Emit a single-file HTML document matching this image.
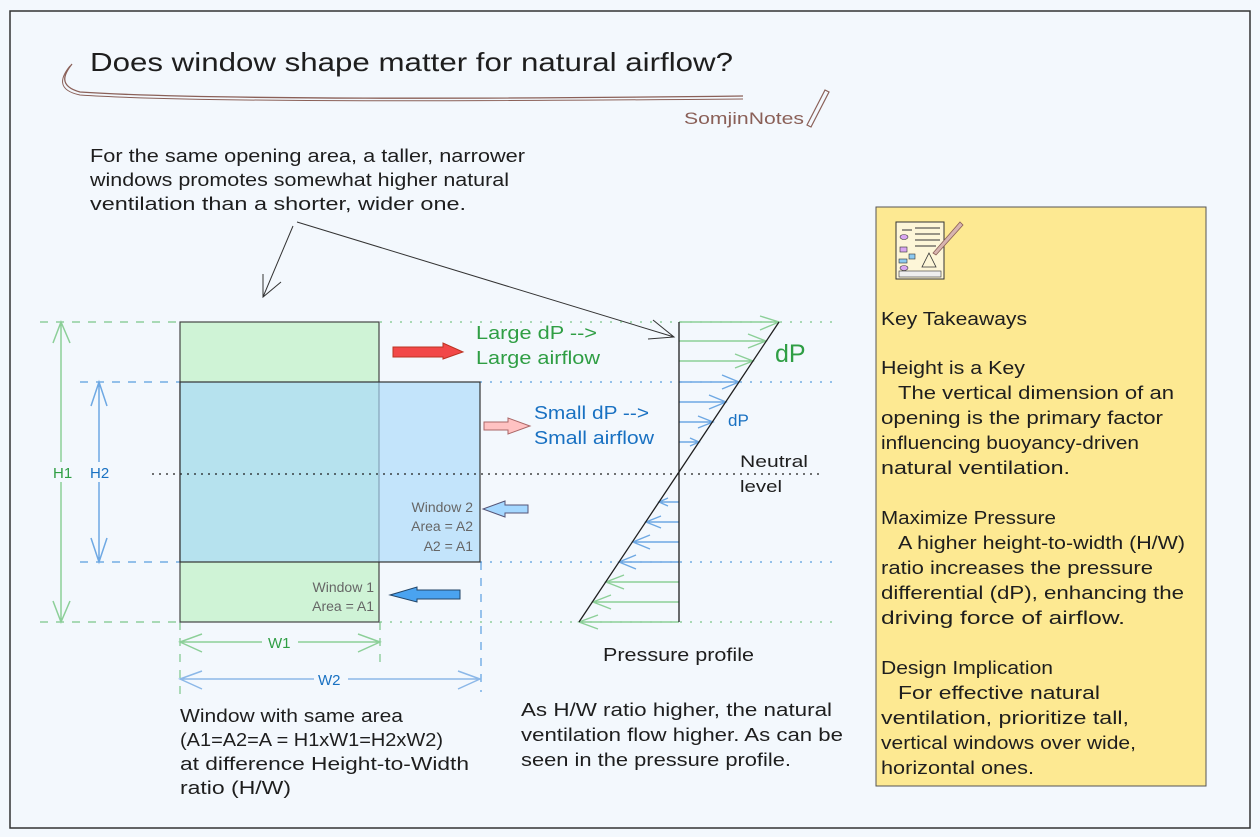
<!DOCTYPE html>
<html><head><meta charset="utf-8"><style>
html,body{margin:0;padding:0;background:#f3f8fd;}
svg{display:block;}
text{font-family:"Liberation Sans",sans-serif;}
</style></head><body>
<svg width="1260" height="837" viewBox="0 0 1260 837" xmlns="http://www.w3.org/2000/svg">
<rect x="0" y="0" width="1260" height="837" fill="#f3f8fd"/>
<rect x="10" y="11" width="1240" height="817" fill="none" stroke="#333" stroke-width="1.5"/>
<!-- title -->
<text x="90" y="71" font-size="26" fill="#1e1e1e" textLength="643" lengthAdjust="spacingAndGlyphs">Does window shape matter for natural airflow?</text>
<path d="M72,64 C64,74 58,86 80,92 C200,100 500,99 743,96" fill="none" stroke="#8a6058" stroke-width="1.3"/>
<path d="M70,66 C61,77 56,90 80,95 C200,103 500,101 743,99" fill="none" stroke="#8a6058" stroke-width="1"/>
<text x="684" y="124" font-size="17" fill="#8a6058" textLength="120" lengthAdjust="spacingAndGlyphs">SomjinNotes</text>
<path d="M807,125 L825,90 L829,92 L811,127 Z" fill="none" stroke="#8a6058" stroke-width="1.2"/>
<!-- top note -->
<g font-size="18" fill="#1e1e1e">
<text x="90" y="162" textLength="435" lengthAdjust="spacingAndGlyphs">For the same opening area, a taller, narrower</text>
<text x="90" y="186" textLength="419" lengthAdjust="spacingAndGlyphs">windows promotes somewhat higher natural</text>
<text x="90" y="210" textLength="376" lengthAdjust="spacingAndGlyphs">ventilation than a shorter, wider one.</text>
</g>
<path d="M297,222 L674,337 M653,320 L674,337 L648,339" fill="none" stroke="#333" stroke-width="1"/>
<path d="M293,226 L263,297 M263,274 L263,297 L281,282" fill="none" stroke="#333" stroke-width="1"/>
<!-- guide lines -->
<g stroke-width="1.2" fill="none">
<path d="M40,322 H180 M40,622 H180" stroke="#7cc68a" stroke-dasharray="8,8"/>
<path d="M380,322 H840 M380,622 H840" stroke="#7cc68a" stroke-dasharray="2,8"/>
<path d="M80,382 H180 M80,562 H180" stroke="#5a9ee0" stroke-dasharray="8,8"/>
<path d="M480,382 H840 M480,562 H840" stroke="#5a9ee0" stroke-dasharray="2,8"/>
<path d="M180,622 V700 M380,622 V662" stroke="#7cc68a" stroke-dasharray="8,8"/>
<path d="M481,562 V692" stroke="#5a9ee0" stroke-dasharray="8,8"/>
</g>
<!-- windows -->
<rect x="180" y="322" width="199" height="300" fill="#cff3d6" stroke="#444" stroke-width="1.2"/>
<rect x="180" y="382" width="300" height="180" fill="#a9d8fb" fill-opacity="0.65" stroke="#333" stroke-width="1.2"/>
<line x1="152" y1="474" x2="820" y2="474" stroke="#1e1e1e" stroke-width="1.3" stroke-dasharray="2,5"/>
<!-- dimension arrows -->
<g fill="none" stroke-width="1.5">
<path d="M61,322 V622 M53,343 L61,322 L70,343 M53,601 L61,622 L70,601" stroke="#8ccf98"/>
<path d="M99,382 V562 M91,406 L99,382 L107,406 M91,538 L99,562 L107,538" stroke="#6ea8e3"/>
<path d="M180,642 H380 M202,634 L180,642 L202,652 M358,634 L380,642 L358,652" stroke="#8ccf98"/>
<path d="M180,679 H480 M202,671 L180,679 L202,689 M458,671 L480,679 L458,689" stroke="#8cb8e8"/>
</g>
<rect x="50" y="462" width="22" height="20" fill="#f3f8fd"/>
<rect x="88" y="462" width="22" height="20" fill="#f3f8fd"/>
<rect x="262" y="634" width="36" height="16" fill="#f3f8fd"/>
<rect x="314" y="671" width="34" height="16" fill="#f3f8fd"/>
<g font-size="15">
<text x="53" y="478" fill="#2f9e44">H1</text>
<text x="90" y="478" fill="#1971c2">H2</text>
<text x="268" y="648" fill="#2f9e44">W1</text>
<text x="318" y="685" fill="#1971c2">W2</text>
</g>
<g font-size="14" fill="#666" text-anchor="end">
<text x="473" y="512">Window 2</text>
<text x="473" y="531">Area = A2</text>
<text x="473" y="551">A2 = A1</text>
<text x="374" y="592">Window 1</text>
<text x="374" y="611">Area = A1</text>
</g>
<!-- flow arrows -->
<path d="M393,347 H443 V343 L463,352 L443,359 V357 H393 Z" fill="#f24848" stroke="#b32" stroke-width="1"/>
<path d="M484,422 H508 V418 L530,426 L508,434 V430 H484 Z" fill="#ffc2c2" stroke="#a66" stroke-width="1"/>
<path d="M528,505 H505 V501 L483,509 L505,517 V513 H528 Z" fill="#a5d8ff" stroke="#557" stroke-width="1"/>
<path d="M460,590 H417 V587 L390,595 L417,602 V599 H460 Z" fill="#4aa3f0" stroke="#246" stroke-width="1"/>
<g font-size="18">
<text x="476" y="339" fill="#2f9e44" textLength="121" lengthAdjust="spacingAndGlyphs">Large dP --&gt;</text>
<text x="476" y="364" fill="#2f9e44" textLength="124" lengthAdjust="spacingAndGlyphs">Large airflow</text>
<text x="534" y="419" fill="#1971c2" textLength="115" lengthAdjust="spacingAndGlyphs">Small dP --&gt;</text>
<text x="534" y="444" fill="#1971c2" textLength="120" lengthAdjust="spacingAndGlyphs">Small airflow</text>
</g>
<!-- pressure profile -->
<g fill="none" stroke-width="1.4">
<path d="M679,322 H779 M760,316 L779,322 L760,330" stroke="#8ccf98"/>
<path d="M679,341 H766 M748,334 L766,341 L748,348" stroke="#8ccf98"/>
<path d="M679,361 H753 M735,354 L753,361 L735,368" stroke="#8ccf98"/>
<path d="M679,382 H739 M722,375 L739,382 L722,389" stroke="#6ea8e3"/>
<path d="M679,402 H726 M709,395 L726,402 L709,409" stroke="#6ea8e3"/>
<path d="M679,422 H713 M698,416 L713,422 L698,428" stroke="#6ea8e3"/>
<path d="M679,442 H699 M690,438 L699,442 L690,446" stroke="#6ea8e3"/>
<path d="M679,502 H659 M668,498 L659,502 L668,506" stroke="#6ea8e3"/>
<path d="M679,522 H646 M661,516 L646,522 L661,528" stroke="#6ea8e3"/>
<path d="M679,542 H633 M650,535 L633,542 L650,549" stroke="#6ea8e3"/>
<path d="M679,562 H619 M636,555 L619,562 L636,569" stroke="#6ea8e3"/>
<path d="M679,582 H606 M624,575 L606,582 L624,589" stroke="#8ccf98"/>
<path d="M679,602 H593 M611,595 L593,602 L611,609" stroke="#8ccf98"/>
<path d="M679,622 H579 M598,615 L579,622 L598,629" stroke="#8ccf98"/>
</g>
<line x1="679" y1="322" x2="679" y2="622" stroke="#1e1e1e" stroke-width="1.3"/>
<line x1="779" y1="322" x2="579" y2="622" stroke="#1e1e1e" stroke-width="1.3"/>
<text x="775" y="362" font-size="25" fill="#2f9e44">dP</text>
<text x="728" y="426" font-size="17" fill="#1971c2">dP</text>
<text x="740" y="467" font-size="17" fill="#1e1e1e" textLength="68" lengthAdjust="spacingAndGlyphs">Neutral</text>
<text x="740" y="492" font-size="17" fill="#1e1e1e" textLength="42" lengthAdjust="spacingAndGlyphs">level</text>
<text x="603" y="661" font-size="18" fill="#1e1e1e" textLength="151" lengthAdjust="spacingAndGlyphs">Pressure profile</text>
<!-- bottom notes -->
<g font-size="18" fill="#1e1e1e">
<text x="180" y="722" textLength="223" lengthAdjust="spacingAndGlyphs">Window with same area</text>
<text x="180" y="746" textLength="263" lengthAdjust="spacingAndGlyphs">(A1=A2=A = H1xW1=H2xW2)</text>
<text x="180" y="770" textLength="289" lengthAdjust="spacingAndGlyphs">at difference Height-to-Width</text>
<text x="180" y="794" textLength="111" lengthAdjust="spacingAndGlyphs">ratio (H/W)</text>
<text x="521" y="716" textLength="311" lengthAdjust="spacingAndGlyphs">As H/W ratio higher, the natural</text>
<text x="521" y="741" textLength="322" lengthAdjust="spacingAndGlyphs">ventilation flow higher. As can be</text>
<text x="521" y="766" textLength="270" lengthAdjust="spacingAndGlyphs">seen in the pressure profile.</text>
</g>
<!-- yellow box -->
<rect x="876" y="207" width="330" height="579" fill="#fde992" stroke="#555" stroke-width="1"/>
<g>
<rect x="896" y="222" width="48" height="57" fill="#fdf6d8" stroke="#333" stroke-width="1"/>
<path d="M915,228 H940 M915,234 H940 M915,240 H940 M915,246 H936 M902,230 H912" stroke="#333" stroke-width="1"/>
<ellipse cx="904" cy="237" rx="4" ry="2.5" fill="#d9a6f0" stroke="#333" stroke-width="0.6"/>
<rect x="900" y="247" width="7" height="5" fill="#d9a6f0" stroke="#333" stroke-width="0.6"/>
<rect x="909" y="254" width="6" height="5" fill="#8cc9f0" stroke="#333" stroke-width="0.6"/>
<rect x="899" y="259" width="8" height="4" fill="#8cc9f0" stroke="#333" stroke-width="0.6"/>
<ellipse cx="904" cy="268" rx="4" ry="2.5" fill="#d9a6f0" stroke="#333" stroke-width="0.6"/>
<path d="M929,253 L936,267 L922,267 Z" fill="none" stroke="#333" stroke-width="0.8"/>
<rect x="899" y="271" width="42" height="6" fill="#eee" stroke="#333" stroke-width="0.6"/>
<path d="M933,253 L960,222 L963,225 L936,255 Z" fill="#d8b4b0" stroke="#8a6058" stroke-width="0.8"/>
</g>
<g font-size="18" fill="#1e1e1e">
<text x="881" y="325" textLength="146" lengthAdjust="spacingAndGlyphs">Key Takeaways</text>
<text x="881" y="374" textLength="144" lengthAdjust="spacingAndGlyphs">Height is a Key</text>
<text x="898" y="399" textLength="276" lengthAdjust="spacingAndGlyphs">The vertical dimension of an</text>
<text x="881" y="424" textLength="282" lengthAdjust="spacingAndGlyphs">opening is the primary factor</text>
<text x="881" y="449" textLength="258" lengthAdjust="spacingAndGlyphs">influencing buoyancy-driven</text>
<text x="881" y="474" textLength="189" lengthAdjust="spacingAndGlyphs">natural ventilation.</text>
<text x="881" y="524" textLength="175" lengthAdjust="spacingAndGlyphs">Maximize Pressure</text>
<text x="898" y="549" textLength="287" lengthAdjust="spacingAndGlyphs">A higher height-to-width (H/W)</text>
<text x="881" y="574" textLength="272" lengthAdjust="spacingAndGlyphs">ratio increases the pressure</text>
<text x="881" y="599" textLength="303" lengthAdjust="spacingAndGlyphs">differential (dP), enhancing the</text>
<text x="881" y="624" textLength="244" lengthAdjust="spacingAndGlyphs">driving force of airflow.</text>
<text x="881" y="674" textLength="172" lengthAdjust="spacingAndGlyphs">Design Implication</text>
<text x="898" y="699" textLength="202" lengthAdjust="spacingAndGlyphs">For effective natural</text>
<text x="881" y="724" textLength="248" lengthAdjust="spacingAndGlyphs">ventilation, prioritize tall,</text>
<text x="881" y="749" textLength="255" lengthAdjust="spacingAndGlyphs">vertical windows over wide,</text>
<text x="881" y="774" textLength="153" lengthAdjust="spacingAndGlyphs">horizontal ones.</text>
</g>
</svg>
</body></html>
